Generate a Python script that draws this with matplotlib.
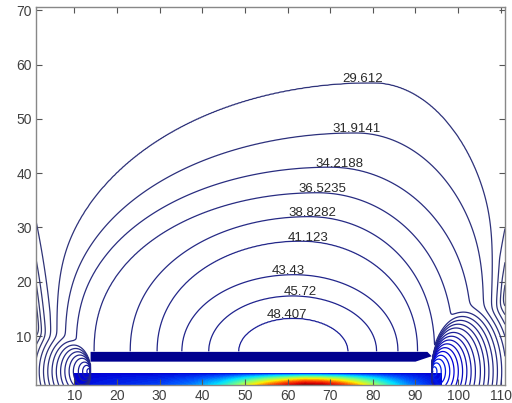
import numpy as np
import matplotlib
matplotlib.use("Agg")
import matplotlib.pyplot as plt
from matplotlib.colors import LinearSegmentedColormap, Normalize

plt.rcParams['font.family'] = ['Liberation Sans', 'DejaVu Sans']

# Labelled isotherms and the arch each one draws above the heated plate
label_levels = [29.612, 31.9141, 34.2188, 36.5235, 38.8282, 41.123, 43.43, 45.72, 48.407]
label_text = ["29.612", "31.9141", "34.2188", "36.5235", "38.8282",
              "41.123", "43.43", "45.72", "48.407"]
apex_x = [80.0, 76.0, 70.0, 67.0, 65.0, 63.0, 61.5, 61.2, 61.3]
apex_y = [56.6, 47.4, 41.1, 36.4, 32.0, 27.5, 21.3, 17.4, 13.3]
foot_left = [4.0, 7.0, 10.0, 14.5, 23.1, 29.4, 35.2, 41.5, 48.5]
foot_right = [111.0, 108.0, 104.0, 99.0, 94.5, 90.5, 85.9, 80.9, 74.2]
label_x = [77.5, 76.2, 72.1, 68.2, 65.8, 64.7, 60.2, 63.0, 59.8]
level_step = 2.3047

# Substrate strip temperature along x (at the floor)
strip_x = [10, 14, 20, 30, 38, 44, 48, 52, 56, 60, 64, 68, 72, 76, 80, 84, 88, 92, 96]
strip_t = [58, 64, 68, 74, 86, 104, 124, 146, 166, 184, 198, 194, 178, 156, 132, 108, 88, 74, 62]

# Plate ends (hot corners) and their temperature
corner_x = [13.8, 93.8]
corner_y = [3.5, 3.5]
corner_t = [55.0, 72.0]
corner_stretch = [1.2, 1.4]
corner_slope = 4.6

# Geometry of plate / gap / strip
plate_top, plate_bottom, gap_bottom = 7.1, 5.3, 3.3
x_min, x_max, y_min, y_max = 1.0, 111.0, 1.0, 70.6

# cold side walls: depth of the cold layer, its reach and height
wall_amp, wall_decay, wall_height = 16.0, 2.2, 20.0

# ---------------------------------------------------------------- field
xg = np.linspace(x_min, x_max, 551)
yg = np.linspace(y_min, y_max, 349)
X, Y = np.meshgrid(xg, yg)

lv = np.array([label_levels[0] - level_step] + label_levels + [label_levels[-1] + 1.6])
cx = [70.0] + apex_x + [61.3]
cy = [95.0] + apex_y + [9.5]
cl = [-25.0] + foot_left + [55.0]
cr = [140.0] + foot_right + [68.0]

G = []
for a, h, l, r in zip(cx, cy, cl, cr):
    q = np.interp(h, [13.0, 56.0], [2.0, 2.4])
    w = np.where(X < a, a - l, r - a)
    v = np.clip(Y - plate_top, 0, None) / (h - plate_top)
    G.append((np.abs(X - a) / w) ** 2 + v ** q)
G = np.array(G)
logG = np.log(np.maximum(G, 1e-9))
n = len(lv)
c = (G < 1).sum(0)
lo = np.clip(c - 1, 0, n - 2)
hi = lo + 1
g_lo = np.take_along_axis(logG, lo[None], 0)[0]
g_hi = np.take_along_axis(logG, hi[None], 0)[0]
t = np.clip(-g_lo / (-g_lo + g_hi + 1e-12), 0, 1)
M = lv[lo] + t * (lv[hi] - lv[lo])
M = np.where(c >= n, lv[-1], M)

wall_profile = wall_amp * np.exp(-((Y - y_min) / wall_height) ** 2)
W = wall_profile * (np.exp(-(X - x_min) / wall_decay) + np.exp(-(x_max - X) / wall_decay))

fields = [M - W]
for k, (xc, yc, tc, sv) in enumerate(zip(corner_x, corner_y, corner_t, corner_stretch)):
    dx = (xc - X) if k == 0 else (X - xc)
    r2 = dx ** 2 + ((Y - yc) / sv) ** 2
    R = np.where(dx > 1e-3, r2 / (2 * np.maximum(dx, 1e-3)), 1e4)
    fields.append(tc - corner_slope * R)

ks = 1.2
T = fields[0] / ks
for f in fields[1:]:
    T = np.logaddexp(T, f / ks)
T = T * ks
T[(X > corner_x[0]) & (X < corner_x[1]) & (Y < plate_top)] = np.nan

# ---------------------------------------------------------------- colours
cmap = LinearSegmentedColormap.from_list("therm", [
    (0.00, "#363a6e"), (0.15, "#1e2290"), (0.22, "#0000d8"), (0.32, "#0050ff"),
    (0.45, "#00e0ff"), (0.58, "#7dff7d"), (0.70, "#ffee00"), (0.82, "#ff5000"),
    (0.92, "#e00000"), (1.00, "#800000")])
norm = Normalize(vmin=20, vmax=200)

low_levels = [label_levels[0] - level_step * k for k in range(6, 0, -1)]
high_levels = [label_levels[-1] + level_step * k for k in range(1, 14)]

# ---------------------------------------------------------------- figure
fig = plt.figure(figsize=(5.12, 4.03), dpi=100)
ax = fig.add_axes([36 / 512, 18 / 403, 469 / 512, 378 / 403])

# substrate strip
xb = np.linspace(10.0, 96.0, 300)
yb = np.linspace(y_min, gap_bottom, 40)
XB, YB = np.meshgrid(xb, yb)
base = np.interp(XB, strip_x, strip_t)
frac = (gap_bottom - YB) / (gap_bottom - y_min)
ZB = np.where(frac < 0.1, 48 + (58 - 48) * frac / 0.1,
              58 + (base - 58) * ((frac - 0.1) / 0.9) ** 0.6)
ax.contourf(XB, YB, ZB, levels=np.linspace(20, 200, 91), cmap=cmap, norm=norm, zorder=1)

# plate
ax.fill([corner_x[0], corner_x[0], 92.8, corner_x[1], 90.0],
        [plate_bottom, plate_top, plate_top, 6.3, plate_bottom],
        color="#00008f", lw=0, zorder=3)

ax.contour(X, Y, T, levels=low_levels + high_levels, cmap=cmap, norm=norm,
           linewidths=0.9, zorder=2)
cs = ax.contour(X, Y, T, levels=label_levels, cmap=cmap, norm=norm,
                linewidths=0.9, zorder=2)

fmt = dict(zip(label_levels, label_text))
manual = list(zip(label_x, apex_y))
texts = ax.clabel(cs, inline=False, fmt=fmt, manual=manual,
                  fontsize=9.5, colors="#2a2a2a")
for tx in texts:
    tx.set_rotation(0)
    px, py = tx.get_position()
    tx.set_position((px, py + 0.7))

ax.set_xlim(x_min, x_max)
ax.set_ylim(y_min, y_max)
ax.set_xticks(range(10, 111, 10))
ax.set_yticks(range(10, 71, 10))
ax.tick_params(direction="in", top=True, right=True, length=4, width=0.8,
               color="#555555", labelcolor="#404040", labelsize=10, pad=3)
for s in ax.spines.values():
    s.set_color("#888888")
    s.set_linewidth(1.0)

fig.savefig("out.png", dpi=100)
